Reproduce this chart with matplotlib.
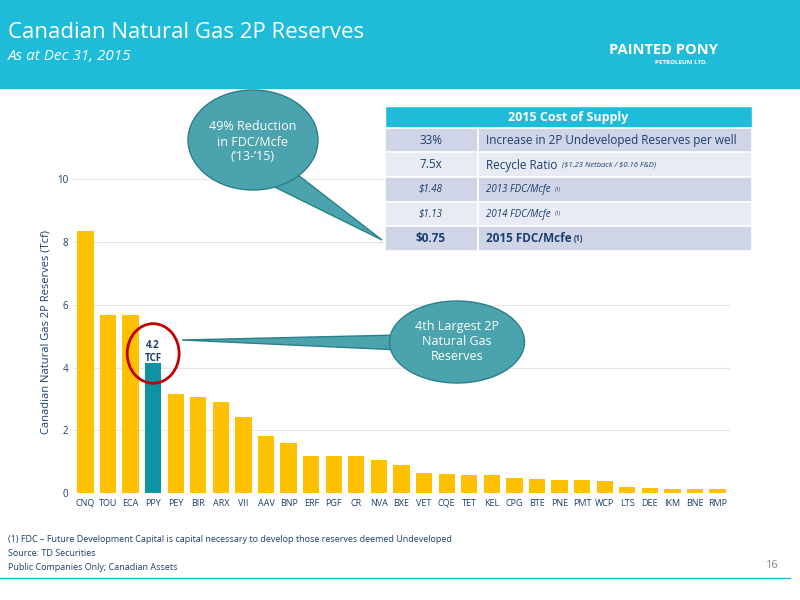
import matplotlib
matplotlib.use("Agg")
import matplotlib.pyplot as plt
from matplotlib.patches import Ellipse, Polygon, Rectangle

cats = ["CNQ","TOU","ECA","PPY","PEY","BIR","ARX","VII","AAV","BNP","ERF","PGF","CR","NVA","BXE",
        "VET","CQE","TET","KEL","CPG","BTE","PNE","PMT","WCP","LTS","DEE","IKM","BNE","RMP"]
vals = [8.34,5.67,5.67,4.14,3.15,3.06,2.9,2.42,1.82,1.59,1.18,1.18,1.18,1.05,0.9,
        0.63,0.6,0.57,0.56,0.48,0.45,0.41,0.41,0.37,0.18,0.16,0.14,0.13,0.13]
table_rows = [("33%","Increase in 2P Undeveloped Reserves per well"),
              ("7.5x","Recycle Ratio"),
              ("\\$1.48","2013 FDC/Mcfe"),
              ("\\$1.13","2014 FDC/Mcfe"),
              ("\\$0.75","2015 FDC/Mcfe")]

W,H = 800,600
fig = plt.figure(figsize=(8,6), dpi=100)
plt.rcParams['font.family'] = ['Open Sans','DejaVu Sans']
def fx(x): return x/W
def fy(y): return 1-y/H

# header
fig.patches.append(Rectangle((0,fy(88)),1,88/H,transform=fig.transFigure,color='#1fbcd9',zorder=0))
fig.text(fx(8),fy(32),"Canadian Natural Gas 2P Reserves",color='white',fontsize=16,va='center')
fig.text(fx(8),fy(56),"As at Dec 31, 2015",color='white',fontsize=11,style='italic',va='center')
fig.text(fx(609),fy(50),"PAINTED PONY",color='white',fontsize=10.5,weight='bold',va='center')
fig.text(fx(655),fy(62),"PETROLEUM LTD.",color='white',fontsize=4.5,weight='bold',va='center')

ax = fig.add_axes([fx(73),fy(493),(730-73)/W,(493-170)/H])
colors = ['#0e93a3' if c=="PPY" else '#ffc000' for c in cats]
x = range(len(cats))
ax.bar(x, vals, width=0.72, color=colors, zorder=2)
ax.set_xlim(-0.55,len(cats)-0.45)
ax.set_ylim(0,10.3)
ax.set_yticks([0,2,4,6,8,10])
ax.set_xticks(list(x))
ax.set_xticklabels(cats,fontsize=6.5,color='#1a3f6f')
ax.tick_params(axis='y',labelsize=7,colors='#1a3f6f',length=0)
ax.tick_params(axis='x',length=0,pad=4)
ax.grid(axis='y',color='#e6e6e6',lw=0.8,zorder=0)
for s in ax.spines.values(): s.set_visible(False)
ax.set_ylabel("Canadian Natural Gas 2P Reserves (Tcf)",fontsize=8,color='#1a3f6f')
ax.text(3,4.5,"4.2\nTCF",ha='center',va='center',fontsize=7,color='#1a3f6f',weight='bold',zorder=3)
ax.add_patch(Ellipse((3,4.45),2.3,1.9,fill=False,ec='#c00000',lw=2,zorder=4))

# callout 1
fig.patches.append(Polygon([(fx(220),fy(160)),(fx(285),fy(165)),(fx(382),fy(240))],closed=True,
                           transform=fig.transFigure,fc='#4aa3ad',ec='#2a7f8a',zorder=5))
fig.patches.append(Ellipse((fx(253),fy(140)),130/W,100/H,transform=fig.transFigure,fc='#4aa3ad',ec='#2a7f8a',zorder=6))
fig.text(fx(253),fy(142),"49% Reduction\nin FDC/Mcfe\n(‘13-’15)",ha='center',va='center',color='white',fontsize=9,zorder=7)
# callout 2
fig.patches.append(Polygon([(fx(400),fy(335)),(fx(400),fy(350)),(fx(182),fy(340))],closed=True,
                           transform=fig.transFigure,fc='#4aa3ad',ec='#2a7f8a',zorder=5))
fig.patches.append(Ellipse((fx(457),fy(342)),135/W,82/H,transform=fig.transFigure,fc='#4aa3ad',ec='#2a7f8a',zorder=6))
fig.text(fx(457),fy(342),"4th Largest 2P\nNatural Gas\nReserves",ha='center',va='center',color='white',fontsize=9,zorder=7)

# table
x0,x1,xm = 385,752,478
fig.patches.append(Rectangle((fx(x0),fy(128)),(x1-x0)/W,22/H,transform=fig.transFigure,fc='#1fbcd9',ec='white',zorder=5))
fig.text(fx((x0+x1)/2),fy(117),"2015 Cost of Supply",ha='center',va='center',color='white',fontsize=9,weight='bold',zorder=6)
rowc = ['#cfd5e6','#e8ebf3','#cfd5e6','#e8ebf3','#cfd5e6']
for i,(a,b) in enumerate(table_rows):
    top = 128+i*24.5
    for xa,xb in [(x0,xm),(xm,x1)]:
        fig.patches.append(Rectangle((fx(xa),fy(top+24.5)),(xb-xa)/W,24.5/H,transform=fig.transFigure,fc=rowc[i],ec='white',lw=1.2,zorder=5))
    yc = fy(top+12.5)
    it = 'italic' if i in (2,3) else 'normal'
    bold = 'bold' if i==4 else 'normal'
    fs = 7 if i in (2,3) else 8.5
    fig.text(fx(431),yc,a,ha='center',va='center',fontsize=fs,style=it,weight=bold,color='#1a3f6f',zorder=6)
    fig.text(fx(486),yc,b,ha='left',va='center',fontsize=fs,style=it,weight=bold,color='#1a3f6f',zorder=6)
    if i==1:
        fig.text(fx(562),yc,"(\\$1.23 Netback / \\$0.16 F&D)",ha='left',va='center',fontsize=5.5,style='italic',color='#1a3f6f',zorder=6)
    if i in (2,3):
        fig.text(fx(555),yc,"(1)",ha='left',va='center',fontsize=4,style='italic',color='#1a3f6f',zorder=6)
    if i==4:
        fig.text(fx(574),yc,"(1)",ha='left',va='center',fontsize=5.5,weight='bold',color='#1a3f6f',zorder=6)

# footer
fig.text(fx(8),fy(540),"(1) FDC – Future Development Capital is capital necessary to develop those reserves deemed Undeveloped",fontsize=6.5,color='#1a3f6f',va='center')
fig.text(fx(8),fy(554),"Source: TD Securities",fontsize=6.5,color='#1a3f6f',va='center')
fig.text(fx(8),fy(568),"Public Companies Only; Canadian Assets",fontsize=6.5,color='#1a3f6f',va='center')
fig.text(fx(778),fy(566),"16",fontsize=8,color='#888888',ha='right',va='center')
fig.add_artist(plt.Line2D([fx(0),fx(790)],[fy(578),fy(578)],color='#1fbcd9',lw=1,transform=fig.transFigure))

fig.savefig("out.png",dpi=100)
